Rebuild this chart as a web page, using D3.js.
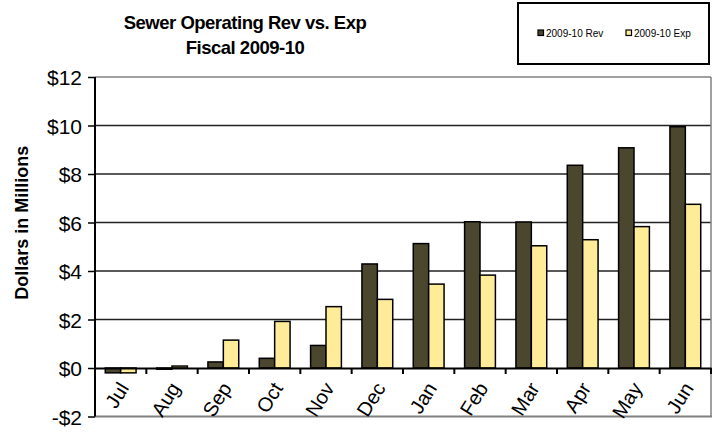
<!DOCTYPE html>
<html><head><meta charset="utf-8">
<script src="https://cdn.jsdelivr.net/npm/d3@7"></script>
<style>body{margin:0;background:#fff}svg{display:block}text{font-family:"Liberation Sans",Arial,sans-serif}</style>
</head><body><svg id="c" width="713" height="433"></svg>
<script>
const months = ["Jul","Aug","Sep","Oct","Nov","Dec","Jan","Feb","Mar","Apr","May","Jun"];
const revenue = [-0.2,-0.05,0.25,0.4,0.93,4.29,5.13,6.03,6.02,8.36,9.08,9.95];
const expense = [-0.2,0.08,1.15,1.92,2.53,2.83,3.46,3.83,5.04,5.29,5.83,6.75];
const seriesNames = ["2009-10  Rev","2009-10  Exp"];
const yTicks = [-2,0,2,4,6,8,10,12];
const colors = ["#4b462e","#ffec98"];

const svg = d3.select("#c");
const L = 95, R = 711, T = 77, B = 416.5;
const x = d3.scaleBand().domain(months).range([L,R]).paddingInner(0).paddingOuter(0);
const y = d3.scaleLinear().domain([-2,12]).range([B,T]);
const bw = x.bandwidth()*0.3;

// gridlines
svg.append("g").selectAll("line").data(yTicks.filter(d=>d>0&&d<12)).join("line")
  .attr("x1",L).attr("x2",R).attr("y1",d=>y(d)).attr("y2",d=>y(d))
  .attr("stroke","#222").attr("stroke-width",1.5);
svg.append("line").attr("x1",L).attr("x2",R).attr("y1",y(12)).attr("y2",y(12)).attr("stroke","#808080").attr("stroke-width",1.5);
svg.append("line").attr("x1",R).attr("x2",R).attr("y1",y(12)).attr("y2",y(-2)).attr("stroke","#808080").attr("stroke-width",1.5);
svg.append("line").attr("x1",L).attr("x2",R+1).attr("y1",y(-2)).attr("y2",y(-2)).attr("stroke","#808080").attr("stroke-width",2);

// bars
const g = svg.append("g");
[revenue,expense].forEach((vals,si)=>{
  g.append("g").selectAll("rect").data(vals).join("rect")
    .attr("x",(d,i)=>x(months[i])+x.bandwidth()/2-bw+si*bw)
    .attr("width",bw)
    .attr("y",d=>y(Math.max(0,d)))
    .attr("height",d=>Math.abs(y(d)-y(0)))
    .attr("fill",colors[si]).attr("stroke","#000").attr("stroke-width",1.5);
});

// zero axis with ticks
const xa = svg.append("g").attr("transform",`translate(0,${y(0)})`)
  .call(d3.axisBottom(x).tickSize(0).tickFormat(""));
xa.select(".domain").attr("stroke","#000").attr("stroke-width",2);
xa.append("g").selectAll("line").data(months).join("line")
  .attr("x1",(d,i)=>L+(i+1)*x.bandwidth()).attr("x2",(d,i)=>L+(i+1)*x.bandwidth())
  .attr("y1",0).attr("y2",6).attr("stroke","#000").attr("stroke-width",2);

// x labels
svg.append("g").selectAll("text").data(months).join("text")
  .attr("transform",d=>`translate(${x(d)+x.bandwidth()/2+9},${y(0)+20}) rotate(-58)`)
  .attr("text-anchor","end").attr("font-size",20).attr("fill","#000").text(d=>d);

// y axis
const ya = svg.append("g").attr("transform",`translate(${L},0)`)
  .call(d3.axisLeft(y).tickValues(yTicks).tickSize(7).tickPadding(6).tickFormat(d=>(d<0?"-$":"$")+Math.abs(d)));
ya.select(".domain").attr("stroke","#000").attr("stroke-width",2).attr("d",`M0,${y(12)}V${y(-2)}`);
ya.selectAll(".tick line").attr("stroke","#000").attr("stroke-width",1.5);
ya.selectAll(".tick text").attr("font-size",21).attr("dy","0.37em").attr("fill","#000").attr("font-family","Liberation Sans, Arial, sans-serif");

// y title
svg.append("text").attr("transform",`translate(28,${(T+B)/2-24}) rotate(-90)`)
  .attr("text-anchor","middle").attr("font-size",18).attr("font-weight","bold").text("Dollars in Millions");

// title
svg.append("text").attr("x",245).attr("y",29).attr("text-anchor","middle").attr("font-size",18.5).attr("letter-spacing",-0.5).attr("font-weight","bold").text("Sewer Operating  Rev vs. Exp");
svg.append("text").attr("x",245).attr("y",54).attr("text-anchor","middle").attr("font-size",18.5).attr("letter-spacing",-0.5).attr("font-weight","bold").text("Fiscal 2009-10");

// legend
const lg = svg.append("g");
lg.append("rect").attr("x",518).attr("y",3).attr("width",191).attr("height",61).attr("fill","#fff").attr("stroke","#000").attr("stroke-width",2);
const lx = [538,626];
seriesNames.forEach((n,i)=>{
  lg.append("rect").attr("x",lx[i]).attr("y",30).attr("width",5.5).attr("height",5.5).attr("fill",colors[i]).attr("stroke","#000").attr("stroke-width",1.2);
  lg.append("text").attr("x",lx[i]+8).attr("y",37).attr("font-size",10).text(n);
});
</script></body></html>
